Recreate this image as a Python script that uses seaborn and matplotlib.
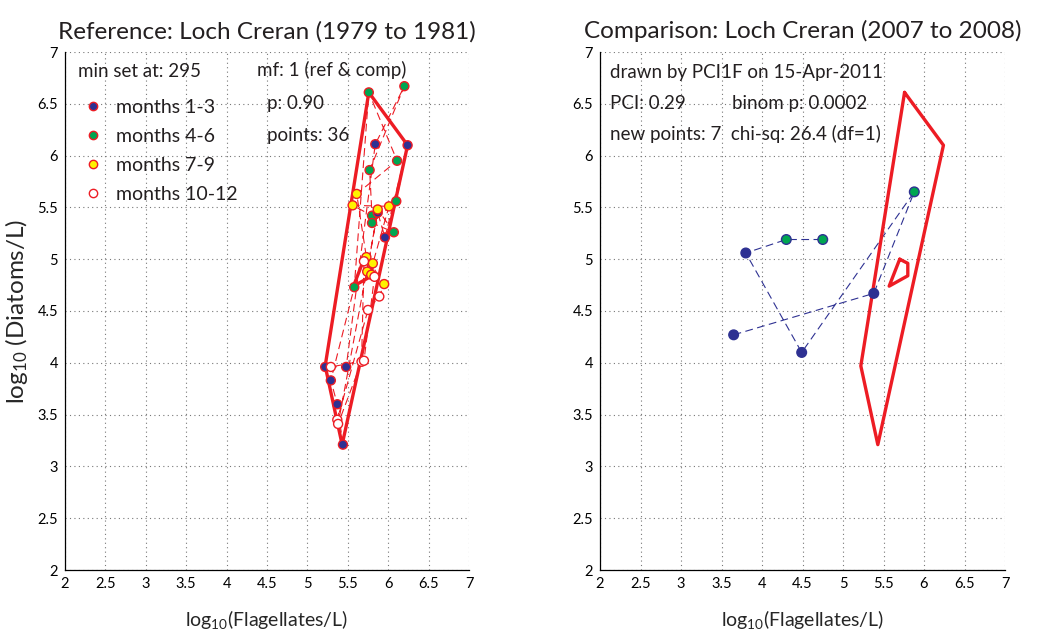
import matplotlib
matplotlib.use("Agg")
import matplotlib.pyplot as plt
from matplotlib.lines import Line2D
from matplotlib.ticker import MultipleLocator
import seaborn as sns
import pandas as pd

# ---------------- data ----------------
# reference period points, in time order (3 years x 12 months)
ref_flag = [5.44, 5.37, 5.29, 5.58, 5.76, 6.11, 5.61, 5.73, 5.95, 5.89, 5.75, 5.37,
            5.22, 5.48, 5.84, 6.20, 5.77, 5.80, 5.56, 6.01, 5.81, 5.70, 5.67, 5.38,
            5.87, 5.96, 6.24, 6.10, 5.80, 6.07, 5.87, 5.74, 5.79, 5.83, 5.70, 5.29]
ref_diat = [3.21, 3.60, 3.83, 4.73, 6.61, 5.95, 5.63, 5.02, 4.76, 4.64, 4.51, 3.45,
            3.96, 3.96, 6.11, 6.67, 5.86, 5.42, 5.52, 5.51, 4.96, 4.98, 4.01, 3.41,
            5.45, 5.21, 6.10, 5.56, 5.35, 5.26, 5.48, 4.88, 4.85, 4.83, 4.02, 3.96]
ref_season = (["months 1-3"] * 3 + ["months 4-6"] * 3 + ["months 7-9"] * 3 + ["months 10-12"] * 3) * 3

# comparison period points, in time order
cmp_flag = [3.65, 5.38, 5.88, 4.49, 3.80, 4.30, 4.75]
cmp_diat = [4.27, 4.67, 5.65, 4.10, 5.06, 5.19, 5.19]
cmp_season = ["months 1-3", "months 1-3", "months 4-6", "months 1-3",
              "months 1-3", "months 4-6", "months 4-6"]

# reference envelope (outer) and inner envelope
env_flag = [5.76, 6.24, 5.43, 5.22, 5.76]
env_diat = [6.61, 6.10, 3.21, 3.97, 6.61]
inner_flag = [5.70, 5.80, 5.80, 5.57, 5.70]
inner_diat = [5.00, 4.96, 4.84, 4.74, 5.00]

seasons = ["months 1-3", "months 4-6", "months 7-9", "months 10-12"]
season_colors = {"months 1-3": "#2e3192", "months 4-6": "#00a651",
                 "months 7-9": "#fff200", "months 10-12": "white"}

ref_df = pd.DataFrame({"flag": ref_flag, "diat": ref_diat, "season": ref_season,
                       "t": range(len(ref_flag))})
cmp_df = pd.DataFrame({"flag": cmp_flag, "diat": cmp_diat, "season": cmp_season,
                       "t": range(len(cmp_flag))})
env_df = pd.DataFrame({"flag": env_flag, "diat": env_diat})
inner_df = pd.DataFrame({"flag": inner_flag, "diat": inner_diat})

# ---------------- style ----------------
sns.set_style("white")
FONT = ["Lato", "DejaVu Sans"]
plt.rcParams["font.family"] = FONT
plt.rcParams["mathtext.fontset"] = "custom"
plt.rcParams["mathtext.rm"] = "Lato"
plt.rcParams["mathtext.it"] = "Lato:italic"
plt.rcParams["mathtext.bf"] = "Lato:bold"
plt.rcParams["text.color"] = "#231f20"

fig = plt.figure(figsize=(10.47, 6.41), dpi=100)
axL = fig.add_axes([65 / 1047, 1 - 570 / 641, 404 / 1047, 518 / 641])
axR = fig.add_axes([600 / 1047, 1 - 570 / 641, 405 / 1047, 518 / 641])

RED = "#ed1c24"
TXT = 13.5

def style_axes(ax):
    ax.set_xlim(2, 7)
    ax.set_ylim(2, 7)
    ax.xaxis.set_major_locator(MultipleLocator(0.5))
    ax.yaxis.set_major_locator(MultipleLocator(0.5))
    ax.xaxis.set_minor_locator(MultipleLocator(0.1))
    ax.yaxis.set_minor_locator(MultipleLocator(0.1))
    ax.tick_params(which="major", direction="in", length=4, width=0.8, labelsize=10.5,
                   colors="black", pad=5)
    ax.tick_params(which="minor", direction="in", length=2, width=0.6)
    ax.xaxis.set_major_formatter(plt.FuncFormatter(lambda v, p: f"{v:g}"))
    ax.yaxis.set_major_formatter(plt.FuncFormatter(lambda v, p: f"{v:g}"))
    ax.grid(True, which="major", linestyle=(0, (1, 3)), color="#777777", linewidth=0.8)
    for s in ["top", "right"]:
        ax.spines[s].set_visible(False)
    for s in ["left", "bottom"]:
        ax.spines[s].set_color("black")
        ax.spines[s].set_linewidth(0.9)
    ax.set_axisbelow(True)
    ax.set_xlabel("")
    ax.set_ylabel("")

# ---------------- left panel ----------------
sns.lineplot(data=ref_df, x="flag", y="diat", sort=False, estimator=None, ax=axL,
             color=RED, linewidth=0.8, linestyle=(0, (7, 4)), zorder=2)
sns.lineplot(data=env_df, x="flag", y="diat", sort=False, estimator=None, ax=axL,
             color=RED, linewidth=2.4, zorder=3)
sns.lineplot(data=inner_df, x="flag", y="diat", sort=False, estimator=None, ax=axL,
             color=RED, linewidth=2.4, zorder=3)
sns.scatterplot(data=ref_df, x="flag", y="diat", hue="season", hue_order=seasons,
                palette=season_colors, edgecolor=RED, linewidth=1.0, s=42, ax=axL,
                legend=False, zorder=4)
style_axes(axL)
axL.set_title("Reference: Loch Creran (1979 to 1981)", fontsize=17.5, pad=10)
axL.set_ylabel(r"log$_{10}$ (Diatoms/L)", fontsize=17.5)
axL.yaxis.set_label_coords(-0.087, 0.5)
axL.set_xlabel(r"log$_{10}$(Flagellates/L)", fontsize=14)
axL.xaxis.set_label_coords(0.5, -0.074)

handles = [Line2D([], [], marker="o", linestyle="none", markersize=6,
                  markerfacecolor=season_colors[s], markeredgecolor=RED,
                  markeredgewidth=1.0, label=s) for s in seasons]
leg = axL.legend(handles=handles, loc="upper left", bbox_to_anchor=(0.025, 0.925),
                 frameon=False, fontsize=14, handletextpad=0.7, labelspacing=0.62,
                 borderaxespad=0.0, handlelength=1.0)
axL.text(0.033, 0.963, "min set at: 295", transform=axL.transAxes, fontsize=TXT,
         va="center", ha="left")
axL.text(0.475, 0.965, "mf: 1 (ref & comp)", transform=axL.transAxes, fontsize=TXT,
         va="center", ha="left")
axL.text(0.50, 0.900, "p: 0.90", transform=axL.transAxes, fontsize=TXT,
         va="center", ha="left")
axL.text(0.50, 0.838, "points: 36", transform=axL.transAxes, fontsize=TXT,
         va="center", ha="left")

# ---------------- right panel ----------------
sns.lineplot(data=env_df, x="flag", y="diat", sort=False, estimator=None, ax=axR,
             color=RED, linewidth=2.4, zorder=3)
sns.lineplot(data=inner_df, x="flag", y="diat", sort=False, estimator=None, ax=axR,
             color=RED, linewidth=2.4, zorder=3)
sns.lineplot(data=cmp_df, x="flag", y="diat", sort=False, estimator=None, ax=axR,
             color="#2e3192", linewidth=0.8, linestyle=(0, (7, 4)), zorder=2)
sns.scatterplot(data=cmp_df, x="flag", y="diat", hue="season", hue_order=seasons[:2],
                palette={s: season_colors[s] for s in seasons[:2]},
                edgecolor="#2e3192", linewidth=1.0, s=48, ax=axR, legend=False, zorder=4)
style_axes(axR)
axR.set_title("Comparison: Loch Creran (2007 to 2008)", fontsize=17.5, pad=10)
axR.set_xlabel(r"log$_{10}$(Flagellates/L)", fontsize=14)
axR.xaxis.set_label_coords(0.5, -0.074)
axR.text(0.025, 0.96, "drawn by PCI1F on 15-Apr-2011", transform=axR.transAxes,
         fontsize=TXT, va="center", ha="left")
axR.text(0.025, 0.90, "PCI: 0.29", transform=axR.transAxes, fontsize=TXT,
         va="center", ha="left")
axR.text(0.325, 0.90, "binom p: 0.0002", transform=axR.transAxes, fontsize=TXT,
         va="center", ha="left")
axR.text(0.025, 0.842, "new points: 7  chi-sq: 26.4 (df=1)", transform=axR.transAxes,
         fontsize=TXT, va="center", ha="left")

fig.savefig("out.png", dpi=100)
